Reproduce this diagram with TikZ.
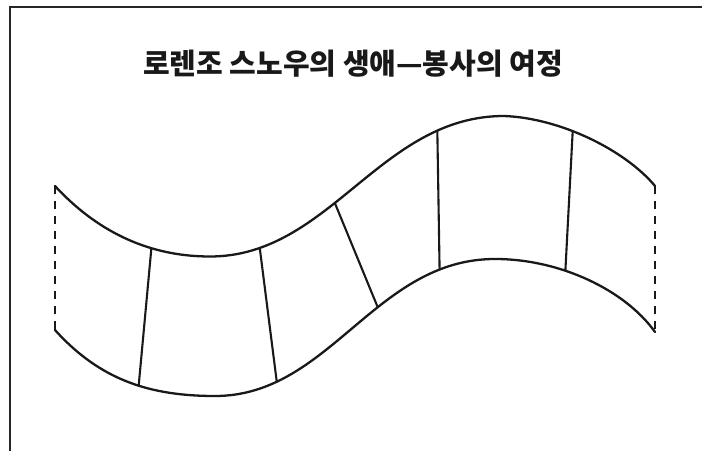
\documentclass[tikz,border=0pt]{standalone}
\usepackage{fontspec}
\newfontfamily\krfont{Noto Sans CJK KR}
\begin{document}
\begin{tikzpicture}[x=1bp,y=-1bp,
  frame/.style={line width=2bp, draw=black!85},
  curve/.style={line width=2.3bp, draw=black!90, line cap=round},
  divider/.style={line width=2.1bp, draw=black!90},
  edge/.style={line width=2.1bp, draw=black!90, dash pattern=on 8bp off 7bp},
  titletext/.style={font=\krfont\bfseries\fontsize{29bp}{32bp}\selectfont, text=black!90, inner sep=0pt}]
\useasboundingbox (0,0) rectangle (702,451);
\draw[frame] (10,451) -- (10,7.5) -- (702,7.5);
\node[titletext] (title) at (353,64) {로렌조 스노우의 생애—봉사의 여정};
% upper band edge
\draw[curve] (55,186) coordinate (u0)
  .. controls (105,240) and (160,256.5) .. (210,256.5) coordinate[pos=0.62] (u1)
  .. controls (330,256.5) and (380,116) .. (504,116)
     coordinate[pos=0.15] (u2) coordinate[pos=0.42] (u3) coordinate[pos=0.8] (u4)
  .. controls (560,118) and (625,150) .. (655,186) coordinate[pos=0.4] (u5)
  coordinate (u6);
% lower band edge
\draw[curve] (55,330) coordinate (l0)
  .. controls (100,380) and (150,396) .. (215,396) coordinate[pos=0.57] (l1)
  .. controls (330,396) and (375,259) .. (495,259)
     coordinate[pos=0.2] (l2) coordinate[pos=0.6] (l3) coordinate[pos=0.83] (l4)
  .. controls (560,259) and (625,290) .. (655,332) coordinate[pos=0.37] (l5)
  coordinate (l6);
% dividers
\foreach \i in {1,...,5} { \draw[divider] (u\i) -- (l\i); }
% open ends
\draw[edge] (u0) -- (l0);
\draw[edge] (u6) -- (l6);
\end{tikzpicture}
\end{document}
